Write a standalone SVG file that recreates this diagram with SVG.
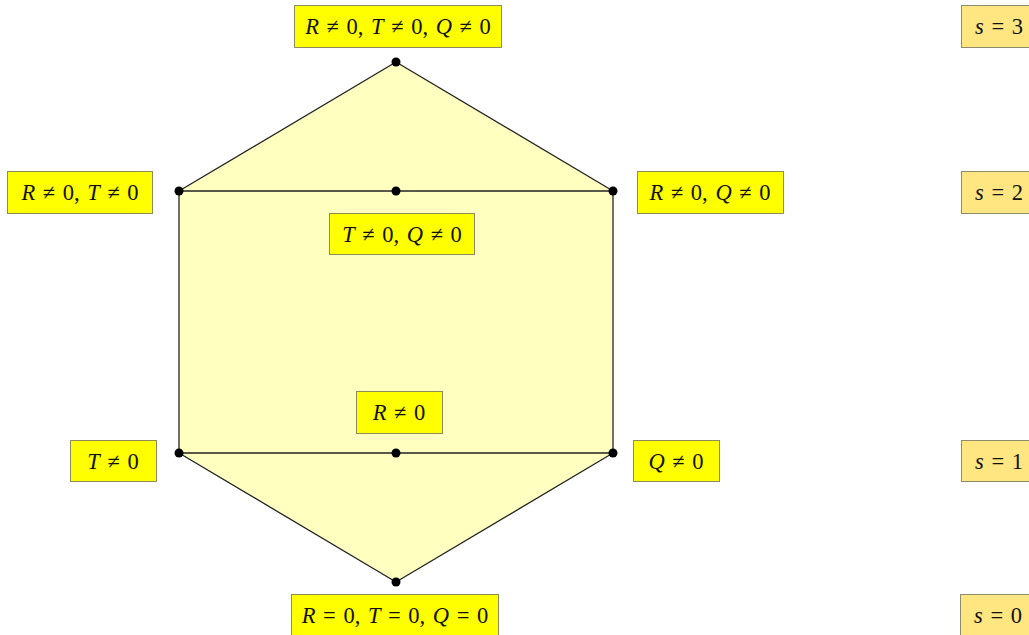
<svg xmlns="http://www.w3.org/2000/svg" width="1029" height="635" viewBox="0 0 1029 635">
<style>
.lb{fill:#ffff00;stroke:#8c8c5a;stroke-width:1}
.sb{fill:#ffe680;stroke:#8c8c6a;stroke-width:1}
.t{font-family:"Liberation Serif","DejaVu Serif",serif;font-size:22.5px;word-spacing:2px;fill:#111;text-anchor:middle;dominant-baseline:central}
.i{font-style:italic}
.e{fill:none;stroke:#222;stroke-width:1.3}
.d{fill:#000}
</style>
<g id="hexagon">
<polygon points="396,62 613,191 613,453 396,582 179,453 179,191" fill="#ffffc0" stroke="none"/>
</g>
<g id="connectors">
<line class="e" x1="396" y1="62" x2="613" y2="191"/>
<line class="e" x1="396" y1="62" x2="179" y2="191"/>
<line class="e" x1="179" y1="191" x2="613" y2="191"/>
<line class="e" x1="179" y1="191" x2="179" y2="453"/>
<line class="e" x1="613" y1="191" x2="613" y2="453"/>
<line class="e" x1="179" y1="453" x2="613" y2="453"/>
<line class="e" x1="179" y1="453" x2="396" y2="582"/>
<line class="e" x1="613" y1="453" x2="396" y2="582"/>
</g>
<g id="vertices">
<circle class="d" cx="396" cy="62" r="4.5"/>
<circle class="d" cx="179" cy="191" r="4.5"/>
<circle class="d" cx="396" cy="191" r="4.5"/>
<circle class="d" cx="613" cy="191" r="4.5"/>
<circle class="d" cx="179" cy="453" r="4.5"/>
<circle class="d" cx="396" cy="453" r="4.5"/>
<circle class="d" cx="613" cy="453" r="4.5"/>
<circle class="d" cx="396" cy="582" r="4.5"/>
</g>
<g id="n-top"><rect class="lb" x="294.5" y="5.5" width="207" height="42"/><text class="t" x="398" y="26"><tspan class="i">R</tspan> ≠ 0, <tspan class="i">T</tspan> ≠ 0, <tspan class="i">Q</tspan> ≠ 0</text></g>
<g id="n-rt"><rect class="lb" x="7.5" y="171.5" width="145" height="42"/><text class="t" x="80" y="192"><tspan class="i">R</tspan> ≠ 0, <tspan class="i">T</tspan> ≠ 0</text></g>
<g id="n-rq"><rect class="lb" x="637.5" y="171.5" width="146" height="42"/><text class="t" x="710" y="192"><tspan class="i">R</tspan> ≠ 0, <tspan class="i">Q</tspan> ≠ 0</text></g>
<g id="n-tq"><rect class="lb" x="329.5" y="213.5" width="145" height="41"/><text class="t" x="402" y="234"><tspan class="i">T</tspan> ≠ 0, <tspan class="i">Q</tspan> ≠ 0</text></g>
<g id="n-r"><rect class="lb" x="356.5" y="391.5" width="86" height="42"/><text class="t" x="399" y="412"><tspan class="i">R</tspan> ≠ 0</text></g>
<g id="n-t"><rect class="lb" x="70.5" y="440.5" width="86" height="41"/><text class="t" x="113" y="461"><tspan class="i">T</tspan> ≠ 0</text></g>
<g id="n-q"><rect class="lb" x="633.5" y="440.5" width="86" height="41"/><text class="t" x="676" y="461"><tspan class="i">Q</tspan> ≠ 0</text></g>
<g id="n-bottom"><rect class="lb" x="291.5" y="594.5" width="207" height="42"/><text class="t" x="395" y="615"><tspan class="i">R</tspan> = 0, <tspan class="i">T</tspan> = 0, <tspan class="i">Q</tspan> = 0</text></g>
<g id="s3"><rect class="sb" x="961.5" y="5.5" width="80" height="42"/><text class="t" x="961" y="26" style="text-anchor:start" dx="14"><tspan class="i">s</tspan> = 3</text></g>
<g id="s2"><rect class="sb" x="961.5" y="171.5" width="80" height="42"/><text class="t" x="961" y="192" style="text-anchor:start" dx="14"><tspan class="i">s</tspan> = 2</text></g>
<g id="s1"><rect class="sb" x="961.5" y="440.5" width="80" height="41"/><text class="t" x="961" y="461" style="text-anchor:start" dx="14"><tspan class="i">s</tspan> = 1</text></g>
<g id="s0"><rect class="sb" x="960.5" y="594.5" width="80" height="42"/><text class="t" x="960" y="615" style="text-anchor:start" dx="14"><tspan class="i">s</tspan> = 0</text></g>
</svg>
